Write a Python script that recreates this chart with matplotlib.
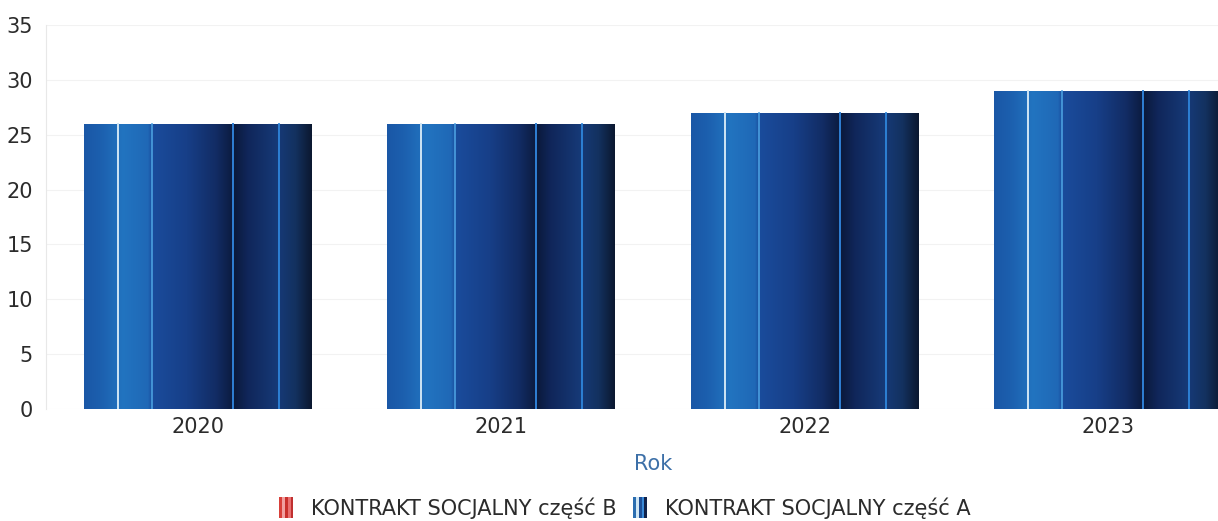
import numpy as np
import matplotlib
matplotlib.use("Agg")
import matplotlib.pyplot as plt
from matplotlib.colors import LinearSegmentedColormap
from matplotlib.patches import Rectangle
from matplotlib.legend_handler import HandlerBase

years = ["2020", "2021", "2022", "2023"]
part_a = [26, 26, 27, 29]
part_b = [0, 0, 0, 0]
series_names = ["KONTRAKT SOCJALNY część B", "KONTRAKT SOCJALNY część A"]
y_ticks = [0, 5, 10, 15, 20, 25, 30, 35]

plt.rcParams['font.family'] = ['DejaVu Sans']

fig = plt.figure(figsize=(12.18, 5.21), dpi=100)
ax = fig.add_axes([46/1218, 112/521, 1214/1218, 384/521])

x = np.arange(len(years))
bw = 0.75
bars_a = ax.bar(x, part_a, width=bw, color="#1a3f8a", zorder=2)
bars_b = ax.bar(x, part_b, width=bw, bottom=part_a, color="#c0392b", zorder=2)

# gradient colours across bar width
blue_stops = [
    (0.00, "#1a57a6"), (0.07, "#1c5fae"), (0.17, "#2274c0"), (0.28, "#1f68b6"),
    (0.30, "#1a4c9c"), (0.45, "#173f88"), (0.58, "#122c64"), (0.66, "#0b1a3c"),
    (0.72, "#10265a"), (0.85, "#163a78"), (0.93, "#13315f"), (1.00, "#0b1830")]
cmap = LinearSegmentedColormap.from_list("barblue", blue_stops)
grad = cmap(np.linspace(0, 1, 256))[None, :, :3]
stripes = [(0.149, "#cfe6f4", 1.4), (0.298, "#4b9fe0", 1.2),
           (0.654, "#2f80d6", 1.4), (0.855, "#2f86dc", 1.3)]

for p in bars_a:
    x0, w, h = p.get_x(), p.get_width(), p.get_height()
    im = ax.imshow(grad, extent=[x0, x0 + w, 0, h], aspect='auto',
                   interpolation='bilinear', zorder=2.5)
    im.set_clip_path(p)
    for f, c, lw in stripes:
        ax.plot([x0 + f * w] * 2, [0, h], color=c, lw=lw, zorder=3)

ax.set_xlim(-0.5, len(years) - 0.5)
ax.set_ylim(0, 35)
ax.set_yticks(y_ticks)
ax.set_xticks(x)
ax.set_xticklabels(years)
ax.tick_params(axis='both', length=0, labelsize=15, colors="#2b2b2b")
ax.tick_params(axis='y', pad=9.5)
ax.tick_params(axis='x', pad=6)
ax.grid(axis='y', color="#f2f2f2", lw=0.8, zorder=0)
for s in ["top", "right", "bottom"]:
    ax.spines[s].set_visible(False)
ax.spines["left"].set_color("#e8e8e8")
ax.set_xlabel("Rok", fontsize=15, color="#3d70a8", labelpad=12)


class StripeHandler(HandlerBase):
    def __init__(self, cols):
        super().__init__()
        self.cols = cols

    def create_artists(self, legend, orig_handle, xdescent, ydescent,
                       width, height, fontsize, trans):
        arts = []
        n = len(self.cols)
        w = width
        x0 = -xdescent
        for i, c in enumerate(self.cols):
            r = Rectangle((x0 + i * w / n, -ydescent - 2), w / n, height + 4,
                          facecolor=c, edgecolor='none', transform=trans)
            arts.append(r)
        return arts


h_b = Rectangle((0, 0), 1, 1)
h_a = Rectangle((0, 0), 1, 1)
red_cols = ["#d8403a", "#f0a0a0", "#c9302c", "#e87070", "#c03030"]
blue_cols = ["#2a6db0", "#cfe6f4", "#1d4f98", "#3a8ad8", "#10224a"]
fig.legend([h_b, h_a], series_names,
           handler_map={h_b: StripeHandler(red_cols), h_a: StripeHandler(blue_cols)},
           loc='center', bbox_to_anchor=(625/1218, 1 - 508/521), ncol=2,
           frameon=False, fontsize=15, handlelength=0.67, handletextpad=0.85,
           columnspacing=0.8, labelcolor="#2b2b2b")

fig.savefig("out.png", dpi=100)
